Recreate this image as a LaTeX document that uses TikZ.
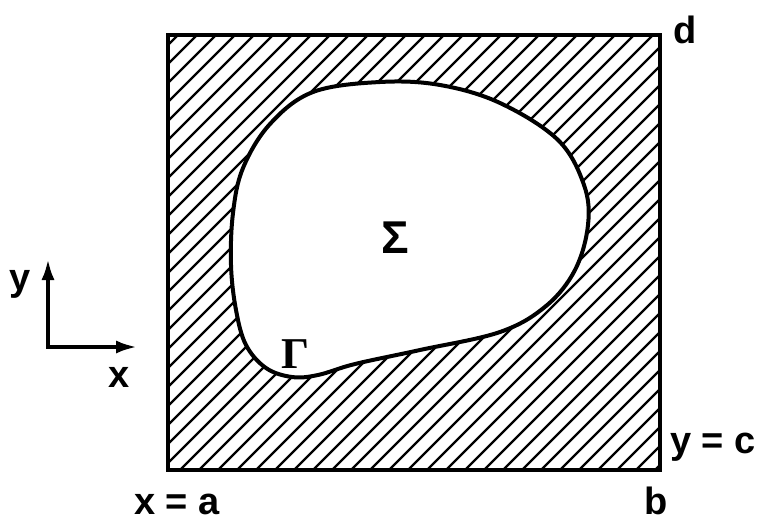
\documentclass[tikz,border=0pt]{standalone}
\usepackage{fontspec}
\setmainfont{Liberation Sans}
\newfontfamily\serifgr{Liberation Serif}
\usetikzlibrary{arrows.meta}
\begin{document}
\begin{tikzpicture}[x=1pt,y=-1pt,
  lbl/.style={font=\fontsize{38}{42}\selectfont\bfseries, inner sep=0pt, anchor=base},
  hatchline/.style={line width=2.3pt},
  frame/.style={line width=3.5pt, line join=miter},
  boundary/.style={line width=4pt},
  axis/.style={line width=4.5pt, line join=miter, {Latex[length=22pt,width=13pt]}-{Latex[length=22pt,width=13pt]}}]
\useasboundingbox (0,0) rectangle (757,522);
% hatching
\begin{scope}
\clip (168,35) rectangle (660,470);
\foreach \s in {-300,-281,...,680} \draw[hatchline] (\s,475) -- ++(460,-460);
\end{scope}
% region Sigma
\def\blob{plot[smooth cycle, tension=0.6] coordinates {
 (380,82) (440,85) (500,103) (558,140) (584,185) (588,225) (575,270)
 (546,306) (500,332) (420,350) (355,364) (318,375) (292,377) (266,368)
 (246,345) (236,310) (231,265) (233,213) (243,168) (270,124) (313,92)}}
\fill[white] \blob;
\draw[boundary] \blob;
% frame
\draw[frame] (168,35) rectangle (660,470);
% axes
\coordinate (o) at (48,347);
\coordinate (ytip) at (48,258);
\coordinate (xtip) at (138,347);
\draw[axis] (ytip) -- (o) -- (xtip);
% labels
\node[lbl] (d) at (685,43) {d};
\node[lbl] (yc) at (713,453) {y = c};
\node[lbl] (b) at (656,514) {b};
\node[lbl] (xa) at (177,514) {x = a};
\node[lbl] (ylab) at (20,290) {y};
\node[lbl] (xlab) at (119,387) {x};
\node[lbl, font=\fontsize{46}{50}\selectfont\bfseries] (sigma) at (395,253) {Σ};
\node[lbl, font=\fontsize{44}{48}\selectfont\serifgr\bfseries] (gamma) at (295,368) {Γ};
\end{tikzpicture}
\end{document}
